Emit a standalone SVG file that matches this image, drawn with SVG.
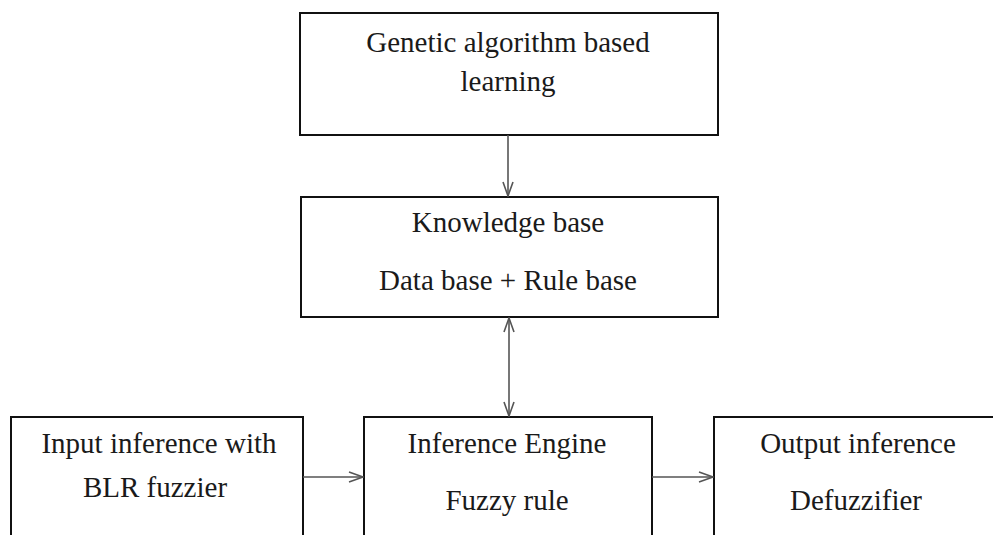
<svg xmlns="http://www.w3.org/2000/svg" width="993" height="535" viewBox="0 0 993 535">
<defs>
<style>
.box{fill:#fff;stroke:#111;stroke-width:2}
.t{font-family:"Liberation Serif","Times New Roman",serif;font-size:29px;fill:#1a1a1a;text-anchor:middle}
.c{stroke:#555;stroke-width:1.6;fill:none}
</style>
<marker id="ah" viewBox="0 0 16 12" refX="15" refY="6" markerWidth="16" markerHeight="12" markerUnits="userSpaceOnUse" orient="auto-start-reverse">
<path d="M1,1 L15,6 L1,11" fill="none" stroke="#555" stroke-width="1.6"/>
</marker>
</defs>
<rect width="993" height="535" fill="#fff"/>
<g id="genetic">
<rect class="box" x="300" y="13" width="418" height="122"/>
<text class="t" x="508" y="52">Genetic algorithm based</text>
<text class="t" x="508" y="91">learning</text>
</g>
<g id="knowledge">
<rect class="box" x="301" y="197" width="417" height="120"/>
<text class="t" x="508" y="232">Knowledge base</text>
<text class="t" x="508" y="290">Data base + Rule base</text>
</g>
<g id="input">
<rect class="box" x="11" y="417" width="292" height="130"/>
<text class="t" x="159" y="453">Input inference with</text>
<text class="t" x="155" y="497">BLR fuzzier</text>
</g>
<g id="engine">
<rect class="box" x="364" y="417" width="288" height="130"/>
<text class="t" x="507" y="453">Inference Engine</text>
<text class="t" x="507" y="510">Fuzzy rule</text>
</g>
<g id="output">
<rect class="box" x="714" y="417" width="300" height="130"/>
<text class="t" x="858" y="453">Output inference</text>
<text class="t" x="856" y="510">Defuzzifier</text>
</g>
<g id="connectors">
<line class="c" x1="508" y1="135" x2="508" y2="196" marker-end="url(#ah)"/>
<line class="c" x1="509" y1="318" x2="509" y2="416" marker-start="url(#ah)" marker-end="url(#ah)"/>
<line class="c" x1="303" y1="477" x2="363" y2="477" marker-end="url(#ah)"/>
<line class="c" x1="652" y1="477" x2="713" y2="477" marker-end="url(#ah)"/>
</g>
</svg>
